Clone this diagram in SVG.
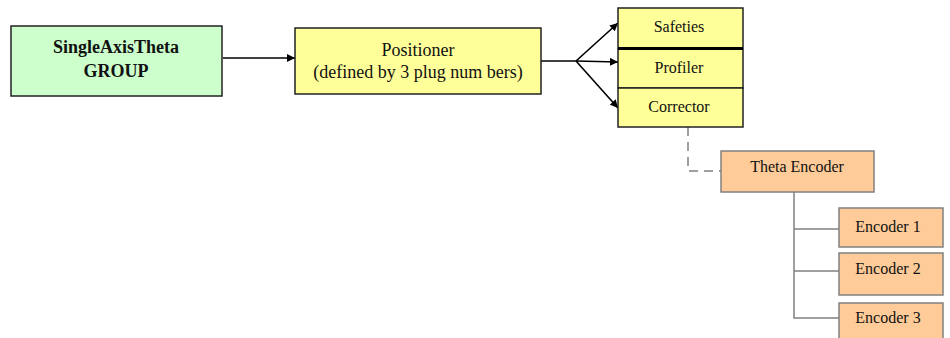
<svg xmlns="http://www.w3.org/2000/svg" width="950" height="338" viewBox="0 0 950 338">
<style>
text{font-family:"Liberation Serif","Times New Roman",serif;fill:#111;text-anchor:middle}
.b{stroke:#222;stroke-width:1.5}
.o{fill:#FFCC99;stroke:#808080;stroke-width:1.5}
.c{stroke:#000;stroke-width:1.6;fill:none}
.g{stroke:#808080;stroke-width:1.5;fill:none}
</style>
<defs>
<marker id="ah" viewBox="0 0 10 10" refX="10" refY="5" markerWidth="8" markerHeight="8" orient="auto" markerUnits="userSpaceOnUse"><path d="M0,0L10,5L0,10z" fill="#000"/></marker>
</defs>
<rect width="950" height="338" fill="#fff"/>
<g id="connectors">
<line class="c" x1="223" y1="58" x2="295" y2="58" marker-end="url(#ah)"/>
<polyline class="c" points="541,61 576,61 618,23" marker-end="url(#ah)"/>
<line class="c" x1="576" y1="61" x2="618" y2="62" marker-end="url(#ah)"/>
<line class="c" x1="576" y1="61" x2="618" y2="108" marker-end="url(#ah)"/>
<polyline class="g" points="688,127 688,171 721,171" stroke-dasharray="9,6"/>
<polyline class="g" points="794,192 794,318 839,318"/>
<line class="g" x1="794" y1="229" x2="839" y2="229"/>
<line class="g" x1="794" y1="271" x2="839" y2="271"/>
</g>
<g id="group">
<rect class="b" x="11" y="26" width="211" height="70" fill="#CCFFCC"/>
<text x="116" y="53" font-size="18" font-weight="bold">SingleAxisTheta</text>
<text x="116" y="77" font-size="18" font-weight="bold">GROUP</text>
</g>
<g id="positioner">
<rect class="b" x="295" y="28" width="246" height="66" fill="#FFFF99"/>
<text x="418" y="56" font-size="18">Positioner</text>
<text x="418" y="78" font-size="18">(defined by 3 plug num bers)</text>
</g>
<g id="safeties">
<rect class="b" x="618" y="8" width="125" height="40" fill="#FFFF99"/>
<text x="679" y="32" font-size="16">Safeties</text>
</g>
<g id="profiler">
<rect class="b" x="618" y="49" width="125" height="39" fill="#FFFF99"/>
<line x1="618" y1="48.5" x2="743" y2="48.5" stroke="#000" stroke-width="3"/>
<text x="679" y="73" font-size="16">Profiler</text>
</g>
<g id="corrector">
<rect class="b" x="618" y="88" width="125" height="39" fill="#FFFF99"/>
<text x="679" y="112" font-size="16">Corrector</text>
</g>
<g id="theta-encoder">
<rect class="o" x="721" y="151" width="153" height="41"/>
<text x="797" y="172" font-size="16">Theta Encoder</text>
</g>
<g id="encoder1">
<rect class="o" x="839" y="208" width="104" height="39"/>
<text x="888" y="232" font-size="16">Encoder 1</text>
</g>
<g id="encoder2">
<rect class="o" x="839" y="253" width="104" height="42"/>
<text x="888" y="274" font-size="16">Encoder 2</text>
</g>
<g id="encoder3">
<rect class="o" x="839" y="303" width="104" height="40"/>
<text x="888" y="323" font-size="16">Encoder 3</text>
</g>
</svg>
